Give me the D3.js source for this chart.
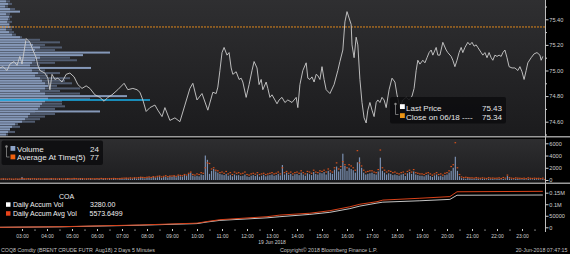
<!DOCTYPE html>
<html>
<head>
<meta charset="utf-8">
<title>COQ8 Comdty</title>
<script src="https://d3js.org/d3.v7.min.js"></script>
<style>
  body { margin: 0; background: #000; }
  svg { display: block; font-family: "Liberation Sans", Arial, sans-serif; }
</style>
</head>
<body>
<svg width="570" height="254"></svg>
<script>

// ---- data (19 Jun 2018, 5 minute bars) ----

// last price, sampled along the line: minutes after midnight / price
const priceMinute = [127,134,144,151,161,168,175,180,190,199,206,214,218,223,235,242,247,252,259,266,276,286,295,305,314,324,334,343,355,367,377,386,396,410,425,434,446,456,463,470,478,487,499,506,516,523,535,547,559,571,583,590,600,612,626,638,646,650,655,660,665,672,677,682,686,694,701,706,710,718,725,732,737,744,749,754,758,766,770,775,780,787,792,797,804,811,818,828,838,842,847,854,862,866,871,876,881,886,890,895,900,905,910,919,929,938,943,950,955,960,965,970,972,977,982,986,991,996,1001,1006,1010,1015,1020,1025,1030,1034,1039,1044,1049,1054,1061,1068,1075,1080,1087,1094,1102,1109,1116,1121,1126,1130,1135,1142,1147,1152,1157,1162,1166,1174,1178,1183,1190,1198,1202,1210,1214,1219,1224,1229,1234,1238,1243,1250,1255,1260,1265,1270,1274,1282,1286,1291,1296,1301,1306,1310,1315,1320,1325,1330,1334,1339,1344,1349,1356,1363,1370,1375,1380,1385,1390,1394,1402,1409,1416,1423,1426,1430]
const priceValue = [75.02,75.03,75.00,75.05,75.07,75.04,75.11,75.05,75.25,75.22,75.16,75.10,75.04,75.00,74.98,74.94,74.85,74.97,74.93,74.94,74.91,74.97,74.98,74.95,74.89,74.86,74.88,74.86,74.81,74.79,74.76,74.79,74.81,74.85,74.90,74.85,74.86,74.85,74.83,74.77,74.68,74.71,74.73,74.69,74.64,74.71,74.61,74.63,74.60,74.73,74.86,74.90,74.77,74.82,74.69,74.83,74.82,74.87,75.00,75.14,75.18,75.12,75.14,75.02,74.97,74.99,74.93,74.94,74.91,74.79,74.89,75.00,75.07,75.02,74.89,74.93,74.85,74.91,74.86,74.79,74.81,74.77,74.74,74.77,74.79,74.75,74.77,74.75,74.79,74.71,74.89,75.00,75.06,74.94,74.93,74.95,74.91,74.97,74.96,74.93,75.03,74.93,74.85,74.82,74.89,75.00,75.07,75.16,75.38,75.46,75.41,75.36,75.20,75.10,75.26,75.20,74.93,74.75,74.63,74.59,74.69,74.75,74.69,74.64,74.75,74.77,74.75,74.79,74.77,74.71,74.85,74.94,74.91,74.81,74.71,74.77,74.79,74.77,74.80,74.86,75.00,75.08,75.05,75.08,75.06,75.10,75.14,75.16,75.12,75.18,75.12,75.12,75.22,75.16,75.14,75.11,75.08,75.03,75.08,75.14,75.18,75.14,75.18,75.22,75.20,75.22,75.19,75.20,75.18,75.14,75.12,75.14,75.10,75.14,75.10,75.08,75.12,75.11,75.12,75.11,75.14,75.16,75.10,75.03,75.02,75.02,75.00,75.03,74.99,74.93,75.00,75.06,75.10,75.13,75.14,75.12,75.08,75.11]

const closePrev = 75.34
const priceTicks = [74.60, 74.80, 75.00, 75.20, 75.40]
const priceMinor = [74.50, 74.70, 74.90, 75.10, 75.30, 75.50]

// volume at price profile (left), levels 75.54 .. 74.50
const profLevel = d3.range(0, 53).map(i => +(75.54 - i * 0.02).toFixed(2))
const profLight = [240,320,200,400,800,240,360,320,280,360,400,240,360,480,800,1000,1200,1320,1600,1400,4400,3320,1600,1400,1280,1200,3640,1280,1520,1400,1600,1680,1800,1920,1800,1600,1800,5080,1920,1800,1680,1600,1520,4000,1200,1120,1000,880,600,480,400,320,240]
const profDark = [400,480,320,600,400,400,480,400,480,400,560,480,560,640,880,1600,2400,1800,2480,2200,1200,1600,2800,3080,2200,1600,1200,1800,2400,1920,2800,2600,2880,2280,3200,2400,3200,1600,3600,2480,2480,2600,2200,1400,2200,1800,1600,1400,720,800,400,600,320]
const pocPrice = 74.77
const pocVol = 6000

// volume per 5 minute bar, one row per hour 02:00 .. 23:55
const volume = [
  80,120,60,150,90,110,70,130,100,60,140,90,
  500,150,90,120,200,80,110,160,90,130,70,180,
  150,100,220,90,130,80,170,110,60,140,200,90,
  120,140,90,110,300,160,80,130,100,180,70,150,
  110,160,90,200,130,80,150,100,250,120,90,170,
  200,150,300,180,250,160,350,220,280,500,300,260,
  350,420,300,500,380,450,600,320,480,550,400,600,
  500,650,450,700,600,550,800,650,1000,1200,700,600,
  700,600,900,800,4000,3300,1000,1500,1800,1400,1200,1000,
  900,800,1000,700,850,600,900,750,800,650,700,900,
  600,500,700,800,650,900,550,700,850,600,750,800,
  900,700,800,1000,750,2450,900,1200,850,1000,700,950,
  1000,800,1200,900,700,1100,950,800,1300,1000,900,1200,
  1100,1300,900,1500,1200,1000,1700,2200,1400,1800,4300,2300,
  1500,2000,1800,1600,1200,2900,3700,2000,1200,900,1000,1100,
  1200,1000,900,1400,3650,1500,1200,900,1100,1000,800,900,
  800,700,900,1000,650,1100,1300,1000,1400,900,800,700,
  700,600,800,900,650,500,750,900,600,700,550,800,
  900,1200,1500,2000,3800,1500,600,300,250,200,300,250,
  200,150,250,180,120,200,160,100,220,140,180,120,
  150,200,100,180,120,650,250,140,100,200,160,120,
  100,150,80,200,120,90,160,110,130,70,150,24
]
// average volume at time of day (5 days)
const avgAtTime = [
  150,180,160,200,170,150,180,160,140,170,150,160,
  250,200,180,220,190,200,210,180,200,190,170,200,
  200,180,220,190,200,170,210,190,180,200,220,190,
  200,250,220,190,200,230,180,200,210,220,190,200,
  220,200,250,210,230,200,240,220,260,230,210,240,
  280,300,320,290,350,300,380,340,400,450,420,380,
  450,500,420,550,480,600,650,500,600,700,550,650,
  650,700,600,800,750,700,900,800,1100,1300,900,800,
  1000,900,1200,1100,2000,2800,2700,1800,2000,1600,1500,1200,
  1300,1100,1400,1000,1200,900,1300,1100,1200,1000,1100,1300,
  900,800,1000,1100,950,1200,900,1000,1100,900,1000,1100,
  1200,1000,1100,1300,1000,2000,1200,1400,1100,1300,1000,1200,
  1300,1100,1500,1200,1000,1400,1300,1100,1600,1300,1200,1500,
  1400,1600,1300,1800,1500,1300,2000,2800,1800,2200,3000,2500,
  2000,2500,2300,2000,1600,4800,2800,2300,1600,1300,1400,1500,
  1500,1300,1200,1700,4900,2000,1600,1300,1500,1400,1200,1300,
  1100,1000,1200,1300,1000,1400,1600,1300,1700,1200,1100,1000,
  1000,900,1100,1200,1000,800,1000,1200,900,1000,800,1100,
  1200,1500,2200,2500,6100,2000,900,500,400,450,400,350,
  350,300,400,320,280,350,300,250,380,300,320,280,
  300,350,250,400,300,800,400,300,250,350,300,280,
  250,300,220,350,280,250,300,260,280,220,300,77
]
const volStartMinute = 120
const volStep = 5
const volTicks = [0, 2000, 4000, 6000]

// daily accumulated volume vs accumulated average
const accMinute = [127,271,463,600,624,655,768,799,871,919,967,991,1032,1046,1135,1207,1224,1430]
const accVol    = [0,2000,9000,16000,23000,30000,41000,46000,56000,65000,81000,92000,105000,109000,115000,121000,139000,140000]
const accAvgVol = [0,2500,10000,18000,25000,33000,46000,53000,61000,72000,89000,100000,111000,118000,126000,133000,154000,156000]
const accTicks = [0, 50000, 100000, 150000]
const accTickLabels = ["0", "50000", "0.1M", "0.15M"]

const hourTicks = d3.range(3, 24).map(h => h * 60)

// ---- layout ----
const axisX = 545
const svg = d3.select("svg")
const defs = svg.append("defs")

const x = d3.scaleLinear().domain([180, 1380]).range([22, 522])
const yPrice = d3.scaleLinear().domain([74.60, 75.40]).range([121.7, 19.3])
const yVol = d3.scaleLinear().domain([0, 6000]).range([180, 143.3])
const yAcc = d3.scaleLinear().domain([0, 150000]).range([227.3, 192.7])
const xProf = d3.scaleLinear().domain([0, 6000]).range([0, 150])

function grad(id, c0, c1) {
  const g = defs.append("linearGradient").attr("id", id)
    .attr("x1", 0).attr("y1", 0).attr("x2", 0).attr("y2", 1)
  g.append("stop").attr("offset", 0).attr("stop-color", c0)
  g.append("stop").attr("offset", 1).attr("stop-color", c1)
}
grad("gMain", "#2f2f31", "#1b1b1d")
grad("gVol", "#2e2e30", "#1d1d1f")

function clip(id, y0, y1) {
  defs.append("clipPath").attr("id", id)
    .append("rect").attr("x", 0).attr("y", y0).attr("width", axisX).attr("height", y1 - y0)
}
clip("cMain", 0, 136)
clip("cVol", 139, 182)
clip("cAcc", 185, 232)

svg.append("rect").attr("width", 570).attr("height", 254).attr("fill", "#000")
svg.append("rect").attr("x", 0).attr("y", 0).attr("width", axisX).attr("height", 136).attr("fill", "url(#gMain)")
svg.append("rect").attr("x", 0).attr("y", 139).attr("width", axisX).attr("height", 43).attr("fill", "url(#gVol)")
svg.append("rect").attr("x", 0).attr("y", 180.5).attr("width", axisX).attr("height", 1.8).attr("fill", "#141416")

// separators
svg.selectAll("line.sep").data([136.8, 183.2]).enter().append("line")
  .attr("x1", 0).attr("x2", 570).attr("y1", d => d).attr("y2", d => d)
  .attr("stroke", "#9a9a9a").attr("stroke-width", 1.6)

// ---- main panel ----
const gMain = svg.append("g").attr("clip-path", "url(#cMain)")

gMain.selectAll("rect.dark").data(profLevel).enter().append("rect")
  .attr("x", 0).attr("y", d => yPrice(d) - 1).attr("height", 2)
  .attr("width", (d, i) => xProf(profDark[i]))
  .attr("fill", "#515c70")

gMain.selectAll("rect.light").data(profLevel).enter().append("rect")
  .attr("x", 0).attr("y", d => yPrice(d) - 1).attr("height", 2)
  .attr("width", (d, i) => xProf(profLight[i]))
  .attr("fill", "#8598b8")

gMain.append("line")
  .attr("x1", 0).attr("x2", xProf(pocVol))
  .attr("y1", yPrice(pocPrice)).attr("y2", yPrice(pocPrice))
  .attr("stroke", "#17b0ec").attr("stroke-width", 1.5)

gMain.append("line")
  .attr("x1", 0).attr("x2", axisX)
  .attr("y1", yPrice(closePrev)).attr("y2", yPrice(closePrev))
  .attr("stroke", "#e0891c").attr("stroke-width", 1).attr("stroke-dasharray", "2,1")

gMain.append("path")
  .datum(priceMinute)
  .attr("d", d3.line().x(d => x(d)).y((d, i) => yPrice(priceValue[i])))
  .attr("fill", "none").attr("stroke", "#cdcdcd").attr("stroke-width", 0.9)

// legend box
const lg = svg.append("g")
lg.append("rect").attr("x", 390).attr("y", 97).attr("width", 116).attr("height", 26.5).attr("rx", 2)
  .attr("fill", "#0d0d0f").attr("fill-opacity", 0.88)
lg.append("path").attr("d", "M395.5,104.5 v10 h3").attr("fill", "none").attr("stroke", "#8a8a8a").attr("stroke-width", 0.8)
lg.append("circle").attr("cx", 395.5).attr("cy", 104).attr("r", 1.2).attr("fill", "#8a8a8a")
lg.append("rect").attr("x", 400).attr("y", 104.2).attr("width", 4.8).attr("height", 4.8).attr("fill", "#ffffff")
lg.append("rect").attr("x", 400).attr("y", 113.2).attr("width", 4.8).attr("height", 4.8).attr("fill", "#eb9515")
const lgText = [["Last Price", "75.43", 110.5], ["Close on 06/18 ----", "75.34", 119.5]]
lgText.forEach(t => {
  lg.append("text").attr("x", 406).attr("y", t[2]).text(t[0]).attr("font-size", 8).attr("fill", "#e6e6e6")
  lg.append("text").attr("x", 502).attr("y", t[2]).text(t[1]).attr("font-size", 8).attr("fill", "#e6e6e6").attr("text-anchor", "end")
})

// ---- volume panel ----
const gVol = svg.append("g").attr("clip-path", "url(#cVol)")
gVol.selectAll("rect.vol").data(volume).enter().append("rect")
  .attr("x", (d, i) => x(volStartMinute + i * volStep) - 0.6)
  .attr("width", 1.2)
  .attr("y", d => yVol(d))
  .attr("height", d => yVol(0) - yVol(d))
  .attr("fill", "#7b90b2")
gVol.selectAll("rect.avg").data(avgAtTime).enter().append("rect")
  .attr("x", (d, i) => x(volStartMinute + i * volStep) - 0.8)
  .attr("width", 1.6)
  .attr("y", d => yVol(d) - 0.6)
  .attr("height", 1.2)
  .attr("fill", "#d4501c")

const vl = svg.append("g")
vl.append("rect").attr("x", 1.5).attr("y", 140.5).attr("width", 101.5).attr("height", 24.5).attr("rx", 2)
  .attr("fill", "#0d0d0f").attr("fill-opacity", 0.9)
vl.append("path").attr("d", "M6.5,147 v10 h3").attr("fill", "none").attr("stroke", "#8a8a8a").attr("stroke-width", 0.8)
vl.append("circle").attr("cx", 6.5).attr("cy", 146.5).attr("r", 1.2).attr("fill", "#8a8a8a")
vl.append("rect").attr("x", 10.5).attr("y", 146).attr("width", 4.8).attr("height", 4.8).attr("fill", "#8ea4c8")
vl.append("rect").attr("x", 10.5).attr("y", 154.5).attr("width", 4.8).attr("height", 4.8).attr("fill", "#f0600f")
const vlText = [["Volume", "24", 151.5], ["Average At Time(5)", "77", 160]]
vlText.forEach(t => {
  vl.append("text").attr("x", 17).attr("y", t[2]).text(t[0]).attr("font-size", 8).attr("fill", "#e6e6e6")
  vl.append("text").attr("x", 99).attr("y", t[2]).text(t[1]).attr("font-size", 8).attr("fill", "#e6e6e6").attr("text-anchor", "end")
})

// ---- accumulated panel ----
const gAcc = svg.append("g").attr("clip-path", "url(#cAcc)")
gAcc.append("path").datum(accMinute)
  .attr("d", d3.line().x(d => x(d)).y((d, i) => yAcc(accVol[i])))
  .attr("fill", "none").attr("stroke", "#c4c4c4").attr("stroke-width", 1)
gAcc.append("path").datum(accMinute)
  .attr("d", d3.line().x(d => x(d)).y((d, i) => yAcc(accAvgVol[i])))
  .attr("fill", "none").attr("stroke", "#d9421a").attr("stroke-width", 1)

const al = svg.append("g").attr("font-size", 7).attr("fill", "#f0f0f0")
al.append("text").attr("x", 59).attr("y", 198.5).text("COA")
al.append("rect").attr("x", 6).attr("y", 202.3).attr("width", 4.5).attr("height", 4.5).attr("fill", "#ffffff")
al.append("rect").attr("x", 6).attr("y", 211.2).attr("width", 4.5).attr("height", 4.5).attr("fill", "#e8431a")
al.append("text").attr("x", 13).attr("y", 207.4).text("Daily Accum Vol")
al.append("text").attr("x", 90).attr("y", 207.4).text("3280.00")
al.append("text").attr("x", 13).attr("y", 216.3).text("Daily Accum Avg Vol")
al.append("text").attr("x", 89.5).attr("y", 216.3).text("5573.6499")

// ---- axes ----
svg.append("line").attr("x1", axisX + 0.5).attr("x2", axisX + 0.5).attr("y1", 0).attr("y2", 232)
  .attr("stroke", "#bdbdbd").attr("stroke-width", 1)

function styleAxis(g) {
  g.select(".domain").remove()
  g.selectAll("line").attr("stroke", "#d0d0d0")
  g.selectAll("text").attr("fill", "#d0d0d0").attr("font-size", 5.6).attr("font-family", null)
}

svg.append("g").attr("transform", `translate(${axisX + 0.5},0)`)
  .call(d3.axisRight(yPrice).tickValues(priceTicks).tickSize(3).tickPadding(0.8).tickFormat(d3.format(".2f")))
  .call(styleAxis)
svg.append("g").attr("transform", `translate(${axisX + 0.5},0)`)
  .call(d3.axisRight(yPrice).tickValues(priceMinor).tickSize(1.5).tickFormat(""))
  .call(styleAxis)

svg.append("g").attr("transform", `translate(${axisX + 0.5},0)`)
  .call(d3.axisRight(yVol).tickValues(volTicks).tickSize(3).tickPadding(0.8).tickFormat(d3.format("d")))
  .call(styleAxis)
svg.append("g").attr("transform", `translate(${axisX + 0.5},0)`)
  .call(d3.axisRight(yAcc).tickValues(accTicks).tickSize(3).tickPadding(0.8).tickFormat((d, i) => accTickLabels[i]))
  .call(styleAxis)

const fmtHM = m => d3.format("02")(Math.floor(m / 60)) + ":" + d3.format("02")(m % 60)
svg.append("g").attr("transform", "translate(0,229)")
  .call(d3.axisBottom(x).tickValues(hourTicks).tickSize(2).tickPadding(3.4).tickFormat(fmtHM))
  .call(styleAxis)
  .selectAll("text").attr("font-size", 5)
svg.append("g").attr("transform", "translate(0,229.5)")
  .call(d3.axisBottom(x).tickValues(hourTicks.map(m => m + 30).filter(m => m < 1430)).tickSize(1.2).tickFormat(""))
  .call(styleAxis)

svg.append("text").attr("x", x(13 * 60)).attr("y", 244).attr("text-anchor", "middle")
  .attr("font-size", 5).attr("fill", "#d0d0d0").text("19 Jun 2018")

// ---- footer ----
const ft = svg.append("g").attr("font-size", 5.3).attr("fill", "#c4c4c4")
ft.append("text").attr("x", 1).attr("y", 252).text("COQ8 Comdty (BRENT CRUDE FUTR  Aug18) 2 Days 5 Minutes").attr("xml:space", "preserve")
ft.append("text").attr("x", 280).attr("y", 252).text("Copyright\u00a9 2018 Bloomberg Finance L.P.")
ft.append("text").attr("x", 567.5).attr("y", 252).attr("text-anchor", "end").text("20-Jun-2018 07:47:15")

</script>
</body>
</html>
